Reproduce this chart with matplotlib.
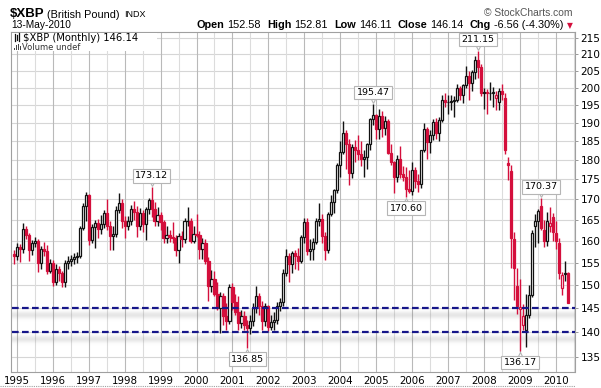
import numpy as np
import matplotlib
matplotlib.use("Agg")
import matplotlib.pyplot as plt
import matplotlib.transforms as mtransforms
from matplotlib.patches import Rectangle
from matplotlib.ticker import NullLocator, FixedLocator

# monthly OHLC of $XBP, Dec 1994 .. May 2010 (month index -1 = Dec 1994, 0 = Jan 1995)
opens = [
    157.0,
    156.4, 158.6, 158.2, 162.8, 161.3, 157.8, 159.5, 160.0, 155.0, 158.2, 157.6, 153.2,  # 1995
    155.0, 150.6, 153.6, 152.6, 150.6, 155.0, 155.4, 155.8, 156.2, 156.6, 163.0, 168.4,  # 1996
    171.0, 160.2, 163.2, 164.2, 162.8, 164.0, 166.6, 163.6, 161.2, 161.6, 167.4, 169.2,  # 1997
    164.6, 163.6, 164.6, 167.6, 166.8, 163.4, 166.6, 164.0, 167.6, 169.8, 167.6, 164.8,  # 1998
    166.2, 164.4, 160.6, 161.4, 160.8, 160.6, 157.8, 161.2, 160.4, 164.6, 164.8, 160.0,  # 1999
    161.6, 161.4, 158.2, 159.6, 155.4, 149.8, 151.4, 148.0, 145.0, 147.6, 143.4, 142.4,  # 2000
    149.6, 146.4, 144.2, 142.0, 143.4, 141.6, 141.0, 142.4, 145.0, 147.6, 145.4, 142.4,  # 2001
    145.4, 141.2, 142.2, 142.6, 145.6, 146.4, 152.6, 156.6, 154.6, 157.2, 156.4, 155.4,  # 2002
    161.0, 164.4, 157.6, 158.2, 159.8, 164.8, 165.2, 161.2, 158.0, 166.4, 169.4, 172.2,  # 2003
    178.6, 182.2, 187.2, 184.2, 176.6, 183.4, 182.6, 181.6, 180.2, 180.8, 184.2, 191.0,  # 2004
    192.2, 188.4, 192.0, 188.6, 190.6, 182.0, 179.4, 175.6, 180.4, 176.4, 175.6, 172.6,  # 2005
    172.0, 177.4, 174.6, 173.8, 182.6, 188.4, 184.8, 186.8, 190.4, 187.2, 190.8, 196.6,  # 2006
    195.8, 196.0, 196.2, 196.6, 200.0, 198.0, 200.8, 203.4, 201.4, 204.6, 208.2, 206.2,  # 2007
    198.6, 198.8, 198.6, 198.6, 197.0, 196.0, 199.2, 197.0, 179.2, 177.2, 160.4, 149.8,  # 2008
    144.8, 141.6, 140.6, 143.6, 147.8, 163.6, 164.6, 168.4, 162.6, 159.9, 163.6, 165.6,  # 2009
    161.8, 159.4, 149.4, 152.4, 152.58,                                                  # 2010
]
highs = [
    157.8,
    159.5, 159.2, 164.3, 163.4, 161.8, 160.3, 161.0, 160.4, 158.7, 159.8, 159.0, 155.8,
    155.6, 154.6, 154.2, 153.2, 155.6, 156.4, 156.8, 157.2, 157.4, 163.6, 169.0, 171.8,
    171.4, 164.0, 165.0, 165.2, 166.2, 167.4, 170.0, 164.8, 163.4, 168.4, 171.6, 170.0,
    166.0, 166.0, 168.6, 169.6, 168.4, 167.8, 167.4, 168.0, 170.4, 173.12, 169.4, 168.2,
    166.8, 165.0, 163.4, 162.6, 164.4, 161.4, 161.8, 162.4, 165.4, 168.0, 165.4, 163.4,
    166.4, 162.4, 160.6, 160.4, 156.2, 153.4, 153.2, 150.6, 148.6, 148.2, 146.2, 150.2,
    150.4, 148.0, 147.6, 144.6, 144.4, 142.6, 143.6, 146.2, 149.9, 148.2, 146.6, 146.2,
    145.8, 143.6, 144.2, 146.4, 147.2, 153.6, 158.2, 157.2, 157.6, 157.8, 158.4, 161.4,
    165.4, 165.4, 160.4, 160.6, 165.4, 169.0, 166.4, 162.0, 166.8, 171.0, 172.6, 179.2,
    185.0, 190.6, 188.0, 185.6, 184.2, 185.4, 186.6, 185.0, 182.6, 184.6, 191.4, 195.47,
    192.6, 193.8, 193.4, 192.0, 191.2, 184.2, 179.8, 181.4, 183.8, 178.4, 178.2, 177.4,
    179.6, 178.2, 176.4, 182.8, 190.0, 189.0, 188.0, 191.0, 191.4, 191.6, 197.8, 198.6,
    198.0, 197.8, 197.6, 201.2, 200.6, 201.2, 206.4, 205.0, 205.4, 209.4, 211.15, 207.0,
    200.0, 199.6, 201.6, 200.2, 199.2, 200.0, 201.0, 198.6, 180.8, 178.8, 162.0, 153.8,
    151.3, 146.0, 148.0, 150.0, 162.6, 166.4, 167.6, 170.37, 165.0, 167.0, 168.0, 166.6,
    164.6, 160.6, 153.0, 155.4, 152.81,
]
lows = [
    154.6,
    155.6, 155.2, 157.3, 160.4, 155.4, 156.8, 158.6, 153.0, 153.6, 156.6, 152.4, 152.6,
    149.8, 150.0, 151.0, 149.6, 149.6, 153.6, 154.2, 154.6, 155.0, 156.0, 162.6, 164.6,
    159.0, 159.4, 158.4, 160.6, 161.6, 163.0, 162.6, 157.8, 158.0, 160.8, 166.6, 163.0,
    160.6, 162.6, 163.8, 165.0, 161.0, 162.6, 162.0, 160.2, 166.4, 165.6, 163.4, 163.4,
    162.6, 159.6, 159.4, 159.8, 159.6, 156.6, 155.0, 158.6, 159.6, 163.4, 159.6, 159.6,
    161.0, 155.8, 155.8, 154.8, 146.6, 148.6, 147.6, 144.6, 139.8, 141.6, 140.4, 141.8,
    144.6, 143.6, 140.6, 141.0, 140.6, 136.85, 139.6, 141.4, 144.0, 143.6, 140.6, 141.4,
    140.2, 140.4, 140.4, 141.8, 144.4, 145.6, 152.0, 150.6, 152.6, 153.6, 153.4, 155.0,
    159.6, 156.8, 155.6, 155.6, 159.2, 163.6, 159.6, 155.6, 157.2, 165.8, 166.6, 171.6,
    175.6, 181.6, 177.6, 173.6, 175.4, 179.6, 180.0, 178.4, 175.6, 177.6, 182.6, 189.4,
    185.6, 185.6, 186.2, 186.6, 181.6, 178.6, 171.6, 174.4, 175.4, 174.6, 170.60, 171.6,
    171.0, 172.8, 171.8, 172.8, 182.2, 180.4, 182.0, 185.4, 185.6, 185.0, 190.2, 194.6,
    192.6, 193.6, 191.6, 196.0, 196.4, 195.6, 200.0, 196.6, 199.0, 202.6, 203.0, 197.6,
    193.8, 192.6, 196.6, 194.6, 193.6, 193.6, 196.4, 181.6, 174.8, 153.8, 146.8, 143.8,
    136.17, 140.4, 137.0, 143.0, 147.4, 158.6, 159.4, 162.6, 158.6, 158.8, 162.2, 160.0,
    158.2, 151.4, 147.8, 150.8, 146.11,
]
closes = [
    156.4,
    158.6, 158.2, 162.8, 161.3, 157.8, 159.5, 160.0, 155.0, 158.2, 157.6, 153.2, 155.0,
    150.6, 153.6, 152.6, 150.6, 155.0, 155.4, 155.8, 156.2, 156.6, 163.0, 168.4, 171.0,
    160.2, 163.2, 164.2, 162.8, 164.0, 166.6, 163.6, 161.2, 161.6, 167.4, 169.2, 164.6,
    163.6, 164.6, 167.6, 166.8, 163.4, 166.6, 164.0, 167.6, 169.8, 167.6, 164.8, 166.2,
    164.4, 160.6, 161.4, 160.8, 160.6, 157.8, 161.2, 160.4, 164.6, 164.8, 160.0, 161.6,
    161.4, 158.2, 159.6, 155.4, 149.8, 151.4, 148.0, 145.0, 147.6, 143.4, 142.4, 149.6,
    146.4, 144.2, 142.0, 143.4, 141.6, 141.0, 142.4, 145.0, 147.6, 145.4, 142.4, 145.4,
    141.2, 142.2, 142.6, 145.6, 146.4, 152.6, 156.6, 154.6, 157.2, 156.4, 155.4, 161.0,
    164.4, 157.6, 158.2, 159.8, 164.8, 165.2, 161.2, 158.0, 166.4, 169.4, 172.2, 178.6,
    182.2, 187.2, 184.2, 176.6, 183.4, 182.6, 181.6, 180.2, 180.8, 184.2, 191.0, 192.2,
    188.4, 192.0, 188.6, 190.6, 182.0, 179.4, 175.6, 180.4, 176.4, 175.6, 172.6, 172.0,
    177.4, 174.6, 173.8, 182.6, 188.4, 184.8, 186.8, 190.4, 187.2, 190.8, 196.6, 195.8,
    196.0, 196.2, 196.6, 200.0, 198.0, 200.8, 203.4, 201.4, 204.6, 208.2, 206.2, 198.6,
    198.8, 198.6, 198.6, 198.8, 197.8, 199.2, 198.2, 182.8, 178.6, 160.6, 153.8, 145.6,
    145.2, 143.4, 143.6, 147.8, 161.8, 164.8, 167.2, 163.0, 160.0, 164.6, 164.2, 162.2,
    160.0, 152.6, 152.2, 152.70, 146.14,
]

years = list(range(1995, 2011))
price_ticks = list(range(135, 216, 5))
support_levels = [145, 140]
marked_high_months = [45, 119, 154, 175]   # Oct 98, Dec 04, Nov 07, Aug 09
marked_low_months = [77, 130, 168]         # Jun 01, Nov 05, Jan 09
quote = [("Open", "152.58"), ("High", "152.81"), ("Low", "146.11"),
         ("Close", "146.14"), ("Chg", "-6.56 (-4.30%)")]

W, H = 601, 388
RED = "#d40f3c"
BLACK = "#111111"


def fpos(x, y):
    return x / W, 1 - y / H


fig = plt.figure(figsize=(W / 100, H / 100), dpi=100)
fig.patch.set_facecolor("white")
ax = fig.add_axes([11 / W, 16 / H, 564 / W, 340 / H])
ax.set_yscale("log")
ax.set_ylim(132.15, 216.98)
ax.set_xlim(-1.9, 186.3)

# grid
for v in price_ticks:
    ax.axhline(v, color="#d6d6d6", lw=0.8, zorder=0)
for y in years:
    x0 = (y - 1995) * 12
    ax.axvline(x0, color="#b9b9b9", lw=0.8, zorder=0)
    ax.axvline(x0 + 6, color="#dcdcdc", lw=0.8, zorder=0)

# shadowed support lines
for level in support_levels:
    for k in range(2, 14):
        tr = mtransforms.offset_copy(ax.transData, fig=fig, x=0, y=-k, units="dots")
        a = 0.15 * np.exp(-((k - 6.5) / 3.2) ** 2)
        ax.plot([-5, 190], [level, level], color="#808080", alpha=a, lw=1.0,
                transform=tr, zorder=1, solid_capstyle="butt")
    ax.plot([-5, 190], [level, level], color="#16168a", lw=1.6,
            ls=(0, (3.0, 1.5)), zorder=6)

# candles
months = np.arange(-1, len(closes) - 1)
prev_close = [opens[0]] + closes[:-1]
w = 0.7
for m, o, h, l, c, pc in zip(months, opens, highs, lows, closes, prev_close):
    col = RED if c < pc else BLACK
    ax.plot([m, m], [l, h], color=col, lw=1.0, zorder=3, solid_capstyle="butt")
    lo, hi = min(o, c), max(o, c)
    face = col if c < o else "white"
    ax.add_patch(Rectangle((m - w / 2, lo), w, hi - lo, facecolor=face,
                           edgecolor=col, lw=0.9, zorder=4))

# labelled extremes
box = dict(boxstyle="square,pad=0.25", fc="white", ec="#b5b5b5", lw=0.8)
for m in marked_high_months:
    v = highs[m + 1]
    tr = mtransforms.offset_copy(ax.transData, fig=fig, x=0, y=4, units="dots")
    ax.plot([m], [v], marker="v", ms=5, mfc="white", mec="#b5b5b5", mew=0.8,
            transform=tr, zorder=7)
    ax.annotate(f"{v:.2f}", xy=(m, v), xytext=(0, 8), textcoords="offset points",
                ha="center", va="center", fontsize=6.8, bbox=box, zorder=8)
for m in marked_low_months:
    v = lows[m + 1]
    tr = mtransforms.offset_copy(ax.transData, fig=fig, x=0, y=-4, units="dots")
    ax.plot([m], [v], marker="^", ms=5, mfc="white", mec="#b5b5b5", mew=0.8,
            transform=tr, zorder=7)
    ax.annotate(f"{v:.2f}", xy=(m, v), xytext=(0, -8), textcoords="offset points",
                ha="center", va="center", fontsize=6.8, bbox=box, zorder=8)

# axes styling
ax.yaxis.tick_right()
ax.yaxis.set_major_locator(FixedLocator(price_ticks))
ax.yaxis.set_minor_locator(NullLocator())
ax.set_yticklabels([str(v) for v in price_ticks], fontsize=7.6, family="DejaVu Sans")
ax.tick_params(axis="y", length=2.5, width=0.6, color="#888888", pad=1.5)
ax.set_xticks([(y - 1995) * 12 for y in years])
ax.set_xticklabels([str(y) for y in years], fontsize=7.4, family="DejaVu Sans")
ax.tick_params(axis="x", length=0, pad=3)
for side in ("left", "top"):
    ax.spines[side].set_color("#a0a0a0")
    ax.spines[side].set_linewidth(0.8)
for side in ("right", "bottom"):
    ax.spines[side].set_color("#a0a0a0")
    ax.spines[side].set_linewidth(0.8)
    ax.spines[side].set_linestyle((0, (1, 1)))
fig.add_artist(plt.Line2D([0, 575 / W], [1 - 386 / H] * 2, color="#a0a0a0",
                          lw=0.8, ls=(0, (1, 1))))

# in-plot legend (white patch + icons + text)
fig.add_artist(Rectangle(fpos(12, 51), 145 / W, 18 / H, facecolor="white",
                         edgecolor="none", zorder=5, transform=fig.transFigure))
for xi, (y0, y1) in zip([15, 17, 19], [(34, 41), (35, 40), (33, 41)]):
    fig.add_artist(plt.Line2D([xi / W] * 2, [1 - y1 / H, 1 - y0 / H], color=BLACK,
                              lw=0.9, zorder=6))
for xi, y0 in zip([14, 16, 18, 20], [48, 45, 44, 46]):
    fig.add_artist(Rectangle(fpos(xi, 50), 1.3 / W, (50 - y0) / H, facecolor="#444444",
                             edgecolor="none", zorder=6, transform=fig.transFigure))
fig.text(*fpos(23, 38), "$XBP (Monthly) 146.14", fontsize=7.2, family="DejaVu Sans",
         va="center", ha="left", zorder=7)
fig.text(*fpos(22, 47.5), "Volume undef", fontsize=6.0, family="DejaVu Sans",
         va="center", ha="left", color="#333333", zorder=7)

# header
fig.text(*fpos(10, 14), "$XBP", fontsize=9.5, weight="bold", family="Liberation Sans", va="center")
fig.text(*fpos(47, 14.5), "(British Pound)", fontsize=7.8, family="Liberation Sans", va="center")
fig.text(*fpos(124, 14.5), "INDX", fontsize=6.5, family="Liberation Sans", va="center")
fig.text(*fpos(11, 25.5), "13-May-2010", fontsize=7.3, family="Liberation Sans", va="center")
fig.text(*fpos(573, 13), "\u00a9 StockCharts.com", fontsize=7.4, family="Liberation Sans",
         color="#555555", va="center", ha="right")

# quote line laid out right to left, ending before the red arrow
renderer = fig.canvas.get_renderer()
x_right = 563
for label, value in reversed(quote):
    t = fig.text(*fpos(x_right, 25.5), value, fontsize=7.85, family="Liberation Sans",
                 va="center", ha="right")
    x_right -= t.get_window_extent(renderer).width + 3
    t = fig.text(*fpos(x_right, 25.5), label, fontsize=7.85, family="Liberation Sans",
                 weight="bold", va="center", ha="right")
    x_right -= t.get_window_extent(renderer).width + 6
fig.text(*fpos(570, 26), "\u25bc", fontsize=5.5, color=RED, va="center", ha="center")

fig.savefig("out.png", dpi=100)
